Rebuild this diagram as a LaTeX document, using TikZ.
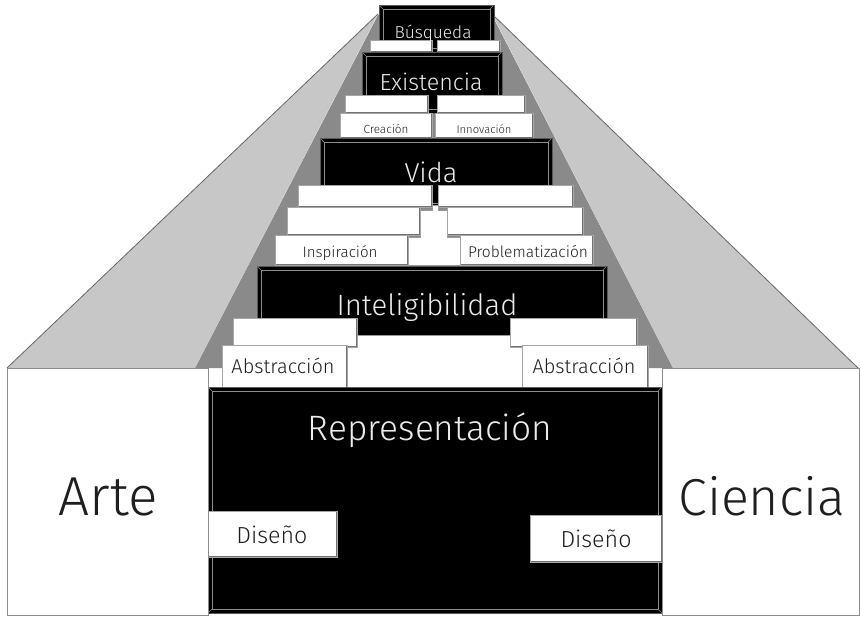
\documentclass[tikz,border=0pt]{standalone}
\usepackage{fontspec}
\setmainfont{Fira Sans Light}
\usepackage{graphicx}
\newcommand\tw[2]{\resizebox{#1pt}{!}{#2}}
\newcommand\bx[7]{\node[#1, minimum width={(#4-#2)*1pt}, minimum height={(#5-#3)*1pt}] (#6) at (#2,#3) {#7};}
\begin{document}
\begin{tikzpicture}[x=1pt,y=-1pt,
  bbox/.style={fill=black, draw=black!65, line width=1pt, inner sep=0pt, outer sep=0pt, anchor=north west,
    path picture={
      \draw[black!45, line width=0.6pt]
        ([shift={(4pt,-4pt)}]path picture bounding box.north west) rectangle ([shift={(-4pt,4pt)}]path picture bounding box.south east);
      \draw[black!45, line width=0.5pt] (path picture bounding box.north west) -- ([shift={(4pt,-4pt)}]path picture bounding box.north west);
      \draw[black!45, line width=0.5pt] (path picture bounding box.north east) -- ([shift={(-4pt,-4pt)}]path picture bounding box.north east);
      \draw[black!45, line width=0.5pt] (path picture bounding box.south west) -- ([shift={(4pt,4pt)}]path picture bounding box.south west);
      \draw[black!45, line width=0.5pt] (path picture bounding box.south east) -- ([shift={(-4pt,4pt)}]path picture bounding box.south east);
    }},
  wbox/.style={fill=white, draw=black!35, line width=0.8pt, inner sep=0pt, outer sep=0pt, anchor=north west,
    path picture={
      \draw[black!55, line width=2.2pt] (path picture bounding box.north east) -- (path picture bounding box.south east) -- (path picture bounding box.south west);
    }},
  pillar/.style={fill=white, draw=black!45, line width=1pt, inner sep=0pt, outer sep=0pt, anchor=north west},
  wt/.style={text=black!8, inner sep=0pt, anchor=base},
  kt/.style={text=black!88, inner sep=0pt, anchor=base}]
\useasboundingbox (0,0) rectangle (861,619);
\fill[white] (0,0) rectangle (861,619);
% side faces of the steps
\fill[black!46] (195,368) -- (378,15) -- (492,15) -- (673,368) -- cycle;
% walls
\fill[black!22] (7,368) -- (378,14) -- (195,368) -- cycle;
\draw[black!60, line width=0.8pt] (7,368) -- (378,14);
\fill[black!22] (858,368) -- (492,14) -- (673,368) -- cycle;
\draw[black!60, line width=0.8pt] (858,368) -- (492,14);
% Busqueda
\bx{bbox}{379}{5}{494}{52}{busq}{}
\bx{wbox}{370}{40}{432}{52}{b1}{}
\bx{wbox}{437}{40}{500}{52}{b2}{}
% Existencia
\bx{bbox}{362}{52}{502}{113}{exis}{}
\bx{wbox}{345}{95}{428}{113}{e1}{}
\bx{wbox}{437}{95}{525}{113}{e2}{}
\bx{wbox}{340}{113}{432}{138}{crea}{}
\bx{wbox}{435}{113}{533}{138}{inno}{}
% Vida
\bx{bbox}{320}{138}{552}{207}{vida}{}
\filldraw[fill=white, draw=black!40, line width=0.8pt] (408,265) -- (408,237) -- (420,237) -- (420,210) -- (432,210) -- (432,205) -- (438,205) -- (438,210) -- (447,210) -- (447,237) -- (460,237) -- (460,265) -- cycle;
\bx{wbox}{298}{185}{432}{207}{v1}{}
\bx{wbox}{438}{185}{573}{207}{v2}{}
\bx{wbox}{287}{207}{420}{235}{v3}{}
\bx{wbox}{447}{207}{583}{235}{v4}{}
\bx{wbox}{275}{235}{408}{265}{insp}{}
\bx{wbox}{460}{235}{593}{265}{prob}{}
% Inteligibilidad
\bx{bbox}{257}{266}{607}{345}{inte}{}
\filldraw[fill=white, draw=black!40, line width=0.8pt] (347,388) -- (347,335) -- (522,335) -- (522,388) -- cycle;
\bx{wbox}{233}{318}{357}{347}{a1}{}
\bx{wbox}{510}{318}{637}{347}{a2}{}
\bx{wbox}{222}{345}{347}{388}{absl}{}
\bx{wbox}{522}{345}{648}{388}{absr}{}
% Representacion
\bx{bbox}{208}{387}{662}{613}{repr}{}
\bx{wbox}{208}{511}{337}{557}{disl}{}
\bx{wbox}{530}{515}{662}{562}{disr}{}
% pillars
\bx{pillar}{7}{368}{208}{615}{arte}{}
\bx{pillar}{662}{368}{859}{615}{cien}{}
% texts
\node[wt] (t-busq) at (433,38) {\tw{77}{Búsqueda}};
\node[wt] (t-exis) at (431,90) {\tw{103}{Existencia}};
\node[kt] (t-crea) at (386,133) {\tw{45}{Creación}};
\node[kt] (t-inno) at (484,133) {\tw{55}{Innovación}};
\node[wt] (t-vida) at (431,182) {\tw{53}{Vida}};
\node[kt] (t-insp) at (340,257) {\tw{75}{Inspiración}};
\node[kt] (t-prob) at (528,257) {\tw{120}{Problematización}};
\node[wt] (t-inte) at (427,315) {\tw{181}{Inteligibilidad}};
\node[kt] (t-absl) at (283,373) {\tw{103}{Abstracción}};
\node[kt] (t-absr) at (584,373) {\tw{103}{Abstracción}};
\node[wt] (t-repr) at (430,440) {\tw{244}{Representación}};
\node[kt] (t-disl) at (272,543) {\tw{71}{Diseño}};
\node[kt] (t-disr) at (596,547) {\tw{71}{Diseño}};
\node[kt] (t-arte) at (108,515) {\tw{99}{Arte}};
\node[kt] (t-cien) at (762,515) {\tw{167}{Ciencia}};
\end{tikzpicture}
\end{document}
